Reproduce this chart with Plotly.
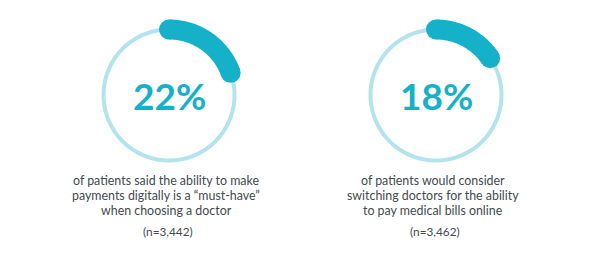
import numpy as np
import plotly.graph_objects as go

# ---- data ----
percents = [22, 18]
percent_labels = ["22%", "18%"]
caption_lines = [
    ["of patients said the ability to make",
     "payments digitally is a \u201cmust-have\u201d",
     "when choosing a doctor"],
    ["of patients would consider",
     "switching doctors for the ability",
     "to pay medical bills online"],
]
sample_sizes = ["(n=3,442)", "(n=3,462)"]

# ---- styling / layout ----
W, H = 600, 254
DARK = "#14b1c8"
LIGHT = "#b3e4ed"
TEXT = "#44494e"
centers_x = [169, 436]
center_y = 95          # px from top
R_PX = 78              # polar radius in px
RING_R = 65.5
CAP_DEG = 9.0

fig = go.Figure()
layout_polars = {}
annotations = []

for i, pct in enumerate(percents):
    pname = "polar" if i == 0 else f"polar{i+1}"
    sub = pname
    cx = centers_x[i]
    cy_b = H - center_y
    layout_polars[pname] = dict(
        domain=dict(x=[(cx - R_PX) / W, (cx + R_PX) / W],
                    y=[(cy_b - R_PX) / H, (cy_b + R_PX) / H]),
        radialaxis=dict(range=[0, R_PX], visible=False),
        angularaxis=dict(visible=False, direction="clockwise", rotation=90),
        bgcolor="rgba(0,0,0,0)",
        hole=0,
    )
    # thin full ring
    th = np.linspace(0, 360, 361)
    fig.add_trace(go.Scatterpolar(r=np.full_like(th, RING_R), theta=th, mode="lines",
                                  line=dict(color=LIGHT, width=4), subplot=sub,
                                  showlegend=False, hoverinfo="skip"))
    # thick arc
    end = pct * 3.6 - CAP_DEG
    th2 = np.linspace(0, end, 120)
    fig.add_trace(go.Scatterpolar(r=np.full_like(th2, RING_R), theta=th2, mode="lines",
                                  line=dict(color=DARK, width=20), subplot=sub,
                                  showlegend=False, hoverinfo="skip"))
    fig.add_trace(go.Scatterpolar(r=[RING_R, RING_R], theta=[0, end], mode="markers",
                                  marker=dict(color=DARK, size=20, line=dict(width=0)),
                                  subplot=sub, showlegend=False, hoverinfo="skip"))
    # percentage label
    annotations.append(dict(x=cx / W, y=1 - center_y / H, xref="paper", yref="paper",
                            text=f"<b>{percent_labels[i]}</b>", showarrow=False,
                            font=dict(family="Lato", size=37, color=DARK),
                            xanchor="center", yanchor="middle"))
    # caption lines
    tx = (cx - 3) / W
    ys = [180.8, 195.8, 210.8]
    for line, yy in zip(caption_lines[i], ys):
        annotations.append(dict(x=tx, y=1 - yy / H, xref="paper", yref="paper",
                                text=line, showarrow=False, borderpad=0,
                                font=dict(family="Lato", size=12.4, color=TEXT),
                                xanchor="center", yanchor="middle"))
    annotations.append(dict(x=(cx - 1.5) / W, y=1 - 231.5 / H, xref="paper", yref="paper",
                            text=sample_sizes[i], showarrow=False,
                            font=dict(family="Lato", size=11.8, color=TEXT),
                            xanchor="center", yanchor="middle"))

fig.update_layout(width=W, height=H, margin=dict(l=0, r=0, t=0, b=0),
                  paper_bgcolor="white", plot_bgcolor="white",
                  annotations=annotations, **layout_polars)

fig.write_html("out.html")
